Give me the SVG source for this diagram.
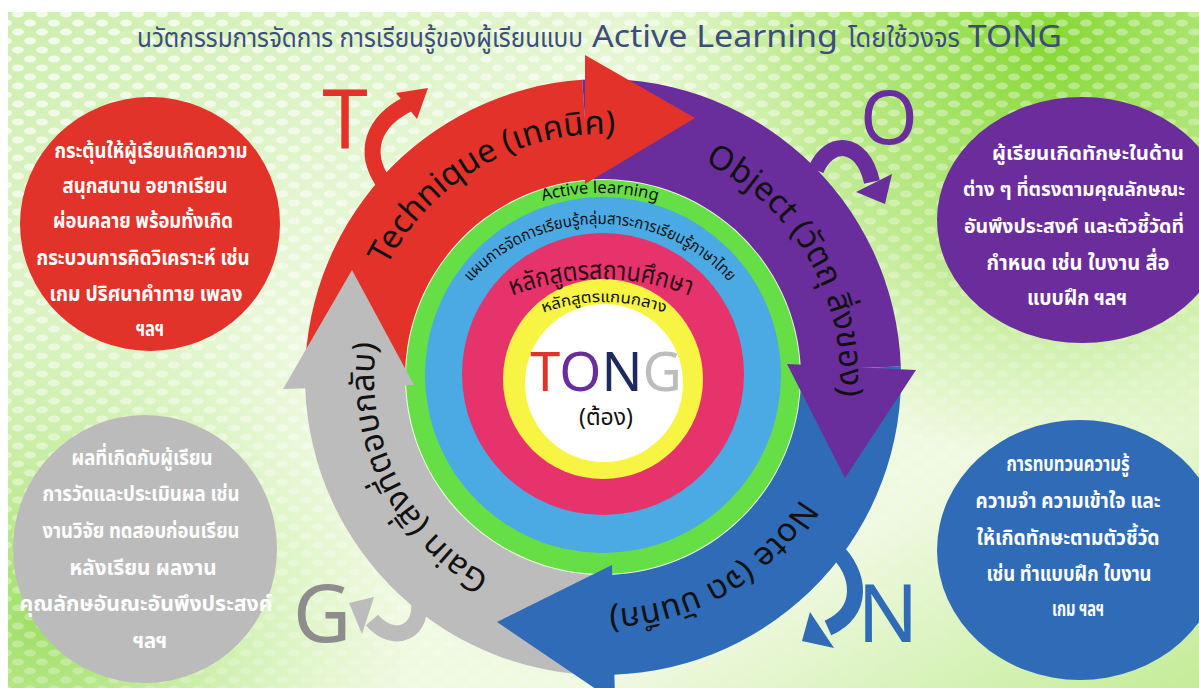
<svg xmlns="http://www.w3.org/2000/svg" width="1199" height="688" viewBox="0 0 1199 688">
<defs>
<style>
.th{font-family:"Noto Sans Thai","Noto Sans","Liberation Sans",sans-serif}
.ct{fill:#fff;font-weight:bold;font-size:21px;text-anchor:middle}
.lbl{fill:#111;font-size:33px}
.big{font-family:"Noto Sans","Open Sans",sans-serif;font-size:80px}
.ring{fill:#111}
</style>
<linearGradient id="bg" x1="0" y1="0" x2="1" y2="1">
<stop offset="0" stop-color="#cdeeae"/>
<stop offset="0.45" stop-color="#f3fbe8"/>
<stop offset="0.75" stop-color="#eef9df"/>
<stop offset="1" stop-color="#c4ec98"/>
</linearGradient>
<radialGradient id="lime" cx="1050" cy="40" r="420" gradientUnits="userSpaceOnUse">
<stop offset="0" stop-color="#84d832"/>
<stop offset="0.6" stop-color="#9fe05a" stop-opacity="0.6"/>
<stop offset="1" stop-color="#b5e87a" stop-opacity="0"/>
</radialGradient>
<radialGradient id="lgreen" cx="40" cy="620" r="380" gradientUnits="userSpaceOnUse">
<stop offset="0" stop-color="#9ede62"/>
<stop offset="1" stop-color="#c6ee9e" stop-opacity="0"/>
</radialGradient>
<pattern id="dots" width="24" height="18" patternUnits="userSpaceOnUse">
<ellipse cx="6" cy="5" rx="6" ry="3.5" fill="#fff"/>
<ellipse cx="18" cy="14" rx="6" ry="3.5" fill="#fff"/>
</pattern>
<linearGradient id="fade" x1="0" y1="0" x2="0.8" y2="1">
<stop offset="0" stop-color="#fff" stop-opacity="0.75"/>
<stop offset="0.5" stop-color="#fff" stop-opacity="0.35"/>
<stop offset="1" stop-color="#fff" stop-opacity="0"/>
</linearGradient>
<mask id="dmask"><rect width="1199" height="688" fill="url(#fade)"/></mask>
<path id="pTech" d="M 368.28 314.11 A 243 243 0 0 1 665.89 142.28"/>
<path id="pObj" d="M 664.34 148.08 A 237 237 0 0 1 831.92 438.34"/>
<path id="pNote" d="M 827.09 437.05 A 232 232 0 0 1 542.95 601.09"/>
<path id="pGain" d="M 528.45 593.52 A 229 229 0 0 1 386.48 302.45"/>
<path id="pAct" d="M 529.2 205.48 A 207 207 0 0 1 670.8 205.48"/>
<path id="pPlan" d="M 463.67 290.49 A 173 173 0 0 1 736.33 290.49"/>
<path id="pSch" d="M 498.3 301.77 A 243 243 0 0 1 703.7 301.77"/>
<path id="pCore" d="M 532.82 317.13 A 175 175 0 0 1 675.18 317.13"/>
</defs>

<g id="background">
<rect width="1199" height="688" fill="url(#bg)"/>
<rect width="1199" height="688" fill="url(#lime)"/>
<rect width="1199" height="688" fill="url(#lgreen)"/>
<rect width="1199" height="688" fill="url(#dots)" mask="url(#dmask)"/>
<rect x="0" y="0" width="1199" height="12" fill="#fff"/>
<rect x="0" y="0" width="8" height="688" fill="#fff"/>
</g>

<g id="title" fill="#3c4d7c">
<text class="th" x="137" y="47" font-size="26" textLength="446" lengthAdjust="spacingAndGlyphs">นวัตกรรมการจัดการ การเรียนรู้ของผู้เรียนแบบ</text>
<text x="592" y="47" font-family="Noto Sans, Open Sans, sans-serif" font-size="31" textLength="246" lengthAdjust="spacingAndGlyphs">Active Learning</text>
<text class="th" x="848" y="47" font-size="26" textLength="112" lengthAdjust="spacingAndGlyphs">โดยใช้วงจร</text>
<text x="968" y="47" font-family="Noto Sans, Open Sans, sans-serif" font-size="31" textLength="94" lengthAdjust="spacingAndGlyphs">TONG</text>
</g>

<g id="rings">
<circle cx="603" cy="377" r="197" fill="#66df46"/>
<circle cx="603" cy="375" r="178" fill="#4ba9e4"/>
<circle cx="603" cy="374" r="141" fill="#e6336b"/>
<circle cx="603" cy="379" r="100" fill="#f7f443"/>
<circle cx="604" cy="383" r="79" fill="#ffffff"/>
</g>

<g id="cycle-bands">
<path id="band-technique" fill="#e2322a" d="M 305.18 387.4 A 298 298 0 0 1 582.21 79.73 L 589.19 179.48 A 198 198 0 0 0 405.12 383.91 Z"/>
<path id="band-object" fill="#6a2e9c" d="M 582.21 79.73 A 298 298 0 0 1 900.82 366.6 L 800.88 370.09 A 198 198 0 0 0 589.19 179.48 Z"/>
<path id="band-note" fill="#2f6bb6" d="M 900.82 366.6 A 298 298 0 0 1 613.4 674.82 L 609.91 574.88 A 198 198 0 0 0 800.88 370.09 Z"/>
<path id="band-gain" fill="#bcbcbc" d="M 613.4 674.82 A 298 298 0 0 1 305.18 387.4 L 405.12 383.91 A 198 198 0 0 0 609.91 574.88 Z"/>
</g>

<g id="cycle-heads">
<polygon id="head-technique" fill="#e2322a" points="585,55 695,118 585,184"/>
<polygon id="head-object" fill="#6a2e9c" points="787,364 916,370 845,478"/>
<polygon id="head-note" fill="#2f6bb6" points="612,565 615,702 497,622"/>
<polygon id="head-gain" fill="#bcbcbc" points="283,389 414,385 352,270"/>
</g>

<g id="connectors" stroke-width="16" fill="none" stroke-linecap="butt">
<path stroke="#e2322a" d="M 383 182 C 363 152, 372 122, 408 104"/>
<polygon fill="#e2322a" stroke="none" points="428,88 396,93 417,119"/>
<path stroke="#6a2e9c" d="M 816 170 C 828 140, 862 138, 872 182"/>
<polygon fill="#6a2e9c" stroke="none" points="885,204 856,192 892,174"/>
<path stroke="#2f6bb6" d="M 834 548 C 862 575, 864 612, 828 628"/>
<polygon fill="#2f6bb6" stroke="none" points="802,641 810,612 834,648"/>
<path stroke="#bcbcbc" d="M 418 596 C 426 632, 394 646, 372 620"/>
<polygon fill="#bcbcbc" stroke="none" points="349,603 374,597 362,634"/>
</g>

<g id="letters" class="big" text-anchor="middle">
<text x="345" y="148" fill="#e2322a" font-size="82">T</text>
<text x="889" y="144" fill="#6a2e9c" font-size="74">O</text>
<text x="888" y="642" fill="#2f6bb6">N</text>
<text x="322" y="642" fill="#8d8d8d">G</text>
</g>

<g id="cycle-labels" class="th lbl">
<text><textPath href="#pTech" startOffset="50%" text-anchor="middle">Technique (เทคนิค)</textPath></text>
<text><textPath href="#pObj" startOffset="50%" text-anchor="middle">Object (วัตถุ สิ่งของ)</textPath></text>
<text><textPath href="#pNote" startOffset="50%" text-anchor="middle">Note (จด บันทึก)</textPath></text>
<text><textPath href="#pGain" startOffset="50%" text-anchor="middle">Gain (สิ่งที่ตอบกลับ)</textPath></text>
</g>

<g id="ring-labels" class="th ring">
<text font-size="16.5"><textPath href="#pAct" startOffset="50%" text-anchor="middle" textLength="116" lengthAdjust="spacingAndGlyphs">Active learning</textPath></text>
<text font-size="16"><textPath href="#pPlan" startOffset="50%" text-anchor="middle" textLength="292" lengthAdjust="spacingAndGlyphs">แผนการจัดการเรียนรู้กลุ่มสาระการเรียนรู้ภาษาไทย</textPath></text>
<text font-size="26" fill="#2a0a14"><textPath href="#pSch" startOffset="50%" text-anchor="middle" textLength="182" lengthAdjust="spacingAndGlyphs">หลักสูตรสถานศึกษา</textPath></text>
<text font-size="15.5"><textPath href="#pCore" startOffset="50%" text-anchor="middle" textLength="124" lengthAdjust="spacingAndGlyphs">หลักสูตรแกนกลาง</textPath></text>
</g>

<g id="center" text-anchor="middle">
<text x="606" y="391" font-family="Noto Sans, Open Sans, sans-serif" font-size="54"><tspan fill="#e2322a">T</tspan><tspan fill="#6a2e9c">O</tspan><tspan fill="#1c2a60">N</tspan><tspan fill="#bdbdbd">G</tspan></text>
<text class="th" x="606" y="425" font-size="23" fill="#111">(ต้อง)</text>
</g>

<g id="node-technique">
<ellipse cx="150" cy="224" rx="130" ry="127" fill="#e2332a"/>
<g class="th ct">
<text x="151" y="158" textLength="193" lengthAdjust="spacingAndGlyphs">กระตุ้นให้ผู้เรียนเกิดความ</text>
<text x="145" y="193" textLength="165" lengthAdjust="spacingAndGlyphs">สนุกสนาน อยากเรียน</text>
<text x="143" y="228" textLength="180" lengthAdjust="spacingAndGlyphs">ผ่อนคลาย พร้อมทั้งเกิด</text>
<text x="143" y="265" textLength="213" lengthAdjust="spacingAndGlyphs">กระบวนการคิดวิเคราะห์ เช่น</text>
<text x="146" y="301" textLength="193" lengthAdjust="spacingAndGlyphs">เกม ปริศนาคำทาย เพลง</text>
<text x="150" y="336" textLength="28" lengthAdjust="spacingAndGlyphs">ฯลฯ</text>
</g>
</g>

<g id="node-object">
<ellipse cx="1082" cy="220" rx="145" ry="123" fill="#6b2d9b"/>
<g class="th ct">
<text x="1088" y="160" font-size="20" textLength="192" lengthAdjust="spacingAndGlyphs">ผู้เรียนเกิดทักษะในด้าน</text>
<text x="1074" y="196" font-size="20" textLength="222" lengthAdjust="spacingAndGlyphs">ต่าง ๆ ที่ตรงตามคุณลักษณะ</text>
<text x="1074" y="233" font-size="20" textLength="220" lengthAdjust="spacingAndGlyphs">อันพึงประสงค์ และตัวชี้วัดที่</text>
<text x="1078" y="270" textLength="183" lengthAdjust="spacingAndGlyphs">กำหนด เช่น ใบงาน สื่อ</text>
<text x="1077" y="305" textLength="100" lengthAdjust="spacingAndGlyphs">แบบฝึก ฯลฯ</text>
</g>
</g>

<g id="node-gain">
<ellipse cx="145" cy="549" rx="132" ry="134" fill="#bbbbbb"/>
<g class="th ct">
<text x="142" y="465" textLength="141" lengthAdjust="spacingAndGlyphs">ผลที่เกิดกับผู้เรียน</text>
<text x="141" y="501" textLength="197" lengthAdjust="spacingAndGlyphs">การวัดและประเมินผล เช่น</text>
<text x="141" y="538" textLength="197" lengthAdjust="spacingAndGlyphs">งานวิจัย ทดสอบก่อนเรียน</text>
<text x="143" y="575" textLength="147" lengthAdjust="spacingAndGlyphs">หลังเรียน ผลงาน</text>
<text x="146" y="611" textLength="253" lengthAdjust="spacingAndGlyphs">คุณลักษอันณะอันพึงประสงค์</text>
<text x="150" y="648" textLength="34" lengthAdjust="spacingAndGlyphs">ฯลฯ</text>
</g>
</g>

<g id="node-note">
<ellipse cx="1080" cy="550" rx="143" ry="130" fill="#2f6bb7"/>
<g class="th ct">
<text x="1068" y="471" textLength="123" lengthAdjust="spacingAndGlyphs">การทบทวนความรู้</text>
<text x="1068" y="508" textLength="185" lengthAdjust="spacingAndGlyphs">ความจำ ความเข้าใจ และ</text>
<text x="1068" y="545" textLength="183" lengthAdjust="spacingAndGlyphs">ให้เกิดทักษะตามตัวชี้วัด</text>
<text x="1069" y="581" textLength="165" lengthAdjust="spacingAndGlyphs">เช่น ทำแบบฝึก ใบงาน</text>
<text x="1078" y="616" textLength="52" lengthAdjust="spacingAndGlyphs">เกม ฯลฯ</text>
</g>
</g>
</svg>
